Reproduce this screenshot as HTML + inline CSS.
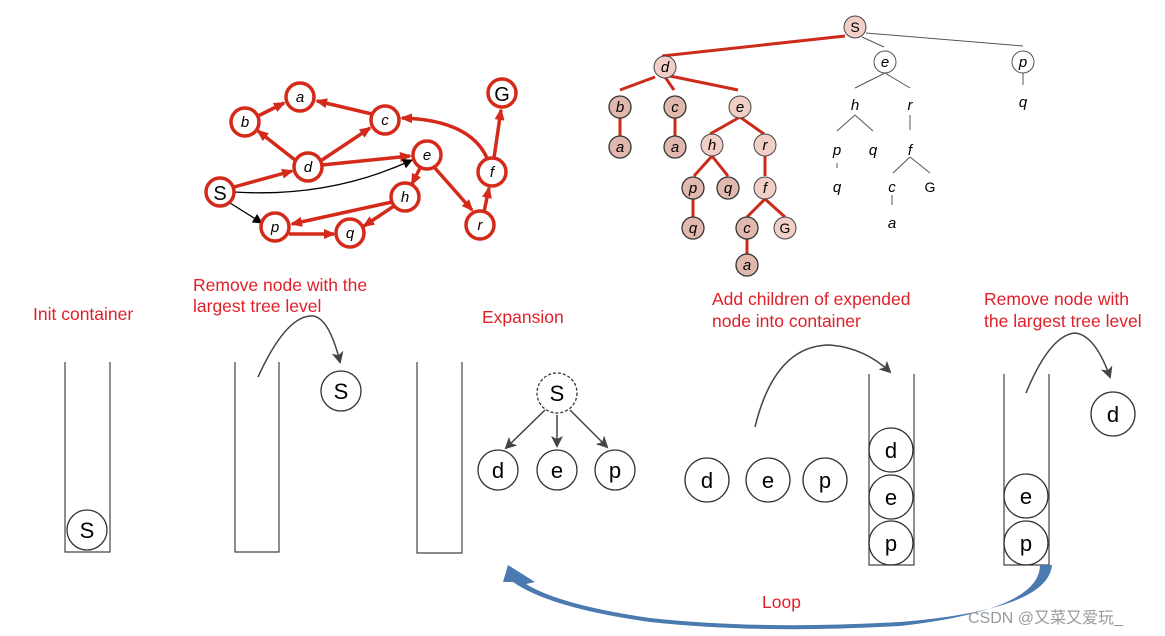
<!DOCTYPE html>
<html><head><meta charset="utf-8"><style>
body{margin:0;background:#fff}
svg{display:block}
.r{fill:#e0202a;font-family:"Liberation Sans",sans-serif;font-size:17.5px}
.it{font-family:"Liberation Sans",sans-serif;font-style:italic;font-size:15px;text-anchor:middle}
.n{font-family:"Liberation Sans",sans-serif;font-size:22px;text-anchor:middle}
</style></head><body>
<svg width="1165" height="636" viewBox="0 0 1165 636" xmlns="http://www.w3.org/2000/svg">
<defs>
<marker id="ar" markerWidth="12" markerHeight="10" refX="10" refY="5" orient="auto" markerUnits="userSpaceOnUse"><path d="M0,0 L12,5 L0,10 z" fill="#d42a1a"/></marker>
<marker id="ak" markerWidth="10" markerHeight="10" refX="9" refY="5" orient="auto" markerUnits="userSpaceOnUse"><path d="M0,0 L10,5 L0,10 z" fill="#000"/></marker>
<marker id="ag" markerWidth="12" markerHeight="12" refX="10" refY="6" orient="auto" markerUnits="userSpaceOnUse"><path d="M0,0 L12,6 L0,12 L3,6 z" fill="#444"/></marker>
</defs>

<!-- graph edges -->
<g stroke="#d42a1a" stroke-width="3.5" fill="none" marker-end="url(#ar)">
<line x1="258" y1="116" x2="284" y2="103"/>
<line x1="372" y1="114" x2="317" y2="101"/>
<line x1="295" y1="160" x2="258" y2="131"/>
<line x1="322" y1="160" x2="370" y2="128"/>
<line x1="322" y1="165" x2="410" y2="156"/>
<line x1="234" y1="187" x2="292" y2="171"/>
<path d="M487,158 Q470,120 402,118"/>
<line x1="494" y1="158" x2="501" y2="110"/>
<line x1="420" y1="168" x2="412" y2="184"/>
<line x1="434" y1="167" x2="472" y2="210"/>
<line x1="484" y1="212" x2="489" y2="188"/>
<line x1="392" y1="202" x2="292" y2="224"/>
<line x1="394" y1="206" x2="364" y2="226"/>
<line x1="289" y1="234" x2="334" y2="234"/>
</g>
<path d="M234,192 Q330,198 412,160" stroke="#000" stroke-width="1.3" fill="none" marker-end="url(#ak)"/>
<line x1="230" y1="203" x2="262" y2="223" stroke="#000" stroke-width="1.3" marker-end="url(#ak)"/>
<g fill="#fff" stroke="#d42a1a" stroke-width="3.5">
<circle cx="300" cy="97" r="14"/><circle cx="245" cy="122" r="14"/><circle cx="385" cy="120" r="14"/>
<circle cx="502" cy="93" r="14"/><circle cx="308" cy="167" r="14"/><circle cx="427" cy="155" r="14"/>
<circle cx="220" cy="192" r="14"/><circle cx="492" cy="172" r="14"/><circle cx="405" cy="197" r="14"/>
<circle cx="275" cy="227" r="14"/><circle cx="350" cy="233" r="14"/><circle cx="480" cy="225" r="14"/>
</g>
<g class="it">
<text x="300" y="102">a</text><text x="245" y="127">b</text><text x="385" y="125">c</text>
<text x="308" y="172">d</text><text x="427" y="160">e</text><text x="492" y="177">f</text>
<text x="405" y="202">h</text><text x="275" y="232">p</text><text x="350" y="238">q</text><text x="480" y="230">r</text>
</g>
<text x="502" y="101" font-family="Liberation Sans" font-size="20" text-anchor="middle">G</text>
<text x="220" y="200" font-family="Liberation Sans" font-size="20" text-anchor="middle">S</text>

<!-- search tree -->
<g stroke="#cc2a1a" stroke-width="3" fill="none">
<line x1="845" y1="36" x2="662" y2="56"/>
<line x1="655" y1="77" x2="620" y2="90"/><line x1="665" y1="77" x2="674" y2="90"/><line x1="670" y1="76" x2="738" y2="90"/>
<line x1="620" y1="118" x2="620" y2="136"/><line x1="675" y1="118" x2="675" y2="136"/>
<line x1="740" y1="117" x2="710" y2="134"/><line x1="740" y1="117" x2="764" y2="134"/>
<line x1="712" y1="156" x2="694" y2="176"/><line x1="712" y1="156" x2="728" y2="176"/>
<line x1="765" y1="156" x2="765" y2="176"/><line x1="693" y1="199" x2="693" y2="217"/>
<line x1="765" y1="199" x2="747" y2="217"/><line x1="765" y1="199" x2="785" y2="217"/>
<line x1="747" y1="239" x2="747" y2="254"/>
</g>
<g stroke="#555" stroke-width="1" fill="none">
<line x1="862" y1="37" x2="884" y2="47"/><line x1="866" y1="33" x2="1023" y2="46"/>
<line x1="885" y1="73" x2="855" y2="88"/><line x1="885" y1="73" x2="910" y2="88"/>
<line x1="855" y1="115" x2="837" y2="131"/><line x1="855" y1="115" x2="873" y2="131"/>
<line x1="910" y1="115" x2="910" y2="130"/><line x1="837" y1="163" x2="837" y2="168"/>
<line x1="910" y1="157" x2="893" y2="173"/><line x1="910" y1="157" x2="930" y2="173"/>
<line x1="892" y1="195" x2="892" y2="205"/><line x1="1023" y1="73" x2="1023" y2="85"/>
</g>
<g fill="#f2cfc6" stroke="#444" stroke-width="1">
<circle cx="855" cy="27" r="11"/><circle cx="665" cy="67" r="11"/>
<circle cx="740" cy="107" r="11"/><circle cx="712" cy="145" r="11"/><circle cx="765" cy="145" r="11"/>
<circle cx="765" cy="188" r="11"/><circle cx="785" cy="228" r="11"/>
</g>
<g fill="#e0b8ae" stroke="#333" stroke-width="1.3">
<circle cx="620" cy="107" r="11"/><circle cx="675" cy="107" r="11"/><circle cx="620" cy="147" r="11"/>
<circle cx="675" cy="147" r="11"/><circle cx="693" cy="188" r="11"/><circle cx="728" cy="188" r="11"/>
<circle cx="693" cy="228" r="11"/><circle cx="747" cy="228" r="11"/><circle cx="747" cy="265" r="11"/>
</g>
<g fill="#fff" stroke="#555" stroke-width="1"><circle cx="885" cy="62" r="11"/><circle cx="1023" cy="62" r="11"/></g>
<g class="it" font-size="14">
<text x="665" y="72">d</text><text x="620" y="112">b</text><text x="675" y="112">c</text><text x="740" y="112">e</text>
<text x="620" y="152">a</text><text x="675" y="152">a</text><text x="712" y="150">h</text><text x="765" y="150">r</text>
<text x="693" y="193">p</text><text x="728" y="193">q</text><text x="765" y="193">f</text><text x="693" y="233">q</text>
<text x="747" y="233">c</text><text x="747" y="270">a</text>
<text x="885" y="67">e</text><text x="1023" y="67">p</text>
<text x="855" y="110">h</text><text x="910" y="110">r</text><text x="837" y="155">p</text><text x="873" y="155">q</text>
<text x="910" y="155">f</text><text x="837" y="192">q</text><text x="892" y="192">c</text><text x="892" y="228">a</text>
<text x="1023" y="107">q</text>
</g>
<text x="855" y="32" font-family="Liberation Sans" font-size="14" text-anchor="middle">S</text>
<text x="785" y="233" font-family="Liberation Sans" font-size="14" text-anchor="middle">G</text>
<text x="930" y="192" font-family="Liberation Sans" font-size="14" text-anchor="middle">G</text>

<!-- labels -->
<text class="r" x="33" y="320">Init container</text>
<text class="r" x="193" y="291">Remove node with the</text>
<text class="r" x="193" y="312">largest tree level</text>
<text class="r" x="482" y="323">Expansion</text>
<text class="r" x="712" y="305">Add children of expended</text>
<text class="r" x="712" y="327">node into container</text>
<text class="r" x="984" y="305">Remove node with</text>
<text class="r" x="984" y="327">the largest tree level</text>
<text class="r" x="762" y="608">Loop</text>

<!-- containers -->
<g fill="none" stroke="#444" stroke-width="1.2">
<path d="M65,362 V552 H110 V362"/><path d="M235,362 V552 H279 V362"/><path d="M417,362 V553 H462 V362"/>
<path d="M869,374 V565 H914 V374"/><path d="M1004,374 V565 H1049 V374"/>
</g>
<g fill="none" stroke="#333" stroke-width="1.3">
<circle cx="87" cy="530" r="20"/><circle cx="341" cy="391" r="20"/>
<circle cx="557" cy="393" r="20" stroke-dasharray="3,2"/>
<circle cx="498" cy="470" r="20"/><circle cx="557" cy="470" r="20"/><circle cx="615" cy="470" r="20"/>
<circle cx="707" cy="480" r="22"/><circle cx="768" cy="480" r="22"/><circle cx="825" cy="480" r="22"/>
<circle cx="891" cy="450" r="22"/><circle cx="891" cy="497" r="22"/><circle cx="891" cy="543" r="22"/>
<circle cx="1026" cy="496" r="22"/><circle cx="1026" cy="543" r="22"/><circle cx="1113" cy="414" r="22"/>
</g>
<g class="n">
<text x="87" y="538">S</text><text x="341" y="399">S</text><text x="557" y="401">S</text>
<text x="498" y="478">d</text><text x="557" y="478">e</text><text x="615" y="478">p</text>
<text x="707" y="488">d</text><text x="768" y="488">e</text><text x="825" y="488">p</text>
<text x="891" y="458">d</text><text x="891" y="505">e</text><text x="891" y="551">p</text>
<text x="1026" y="504">e</text><text x="1026" y="551">p</text><text x="1113" y="422">d</text>
</g>
<g fill="none" stroke="#444" stroke-width="1.5" marker-end="url(#ag)">
<path d="M258,377 Q285,318 310,316 Q328,314 340,362"/>
<line x1="545" y1="410" x2="506" y2="448"/><line x1="557" y1="415" x2="557" y2="446"/><line x1="570" y1="410" x2="607" y2="447"/>
<path d="M755,427 Q775,345 830,345 Q865,348 890,372"/>
<path d="M1026,393 Q1050,335 1075,333 Q1095,335 1110,377"/>
</g>
<!-- Loop arrow -->
<path d="M1040,565 L1052,565 Q1048,610 900,622 Q760,630 650,618 Q560,605 526,584 L535,582 L508,565 L503,582 L513,582 Q550,608 650,622 Q760,634 900,626 Q1040,610 1040,565 Z" fill="#4a7ab0"/>
<text x="968" y="623" font-family="Liberation Sans,'Noto Sans CJK SC',sans-serif" font-size="16" fill="#999">CSDN @又菜又爱玩_</text>
</svg>
</body></html>
